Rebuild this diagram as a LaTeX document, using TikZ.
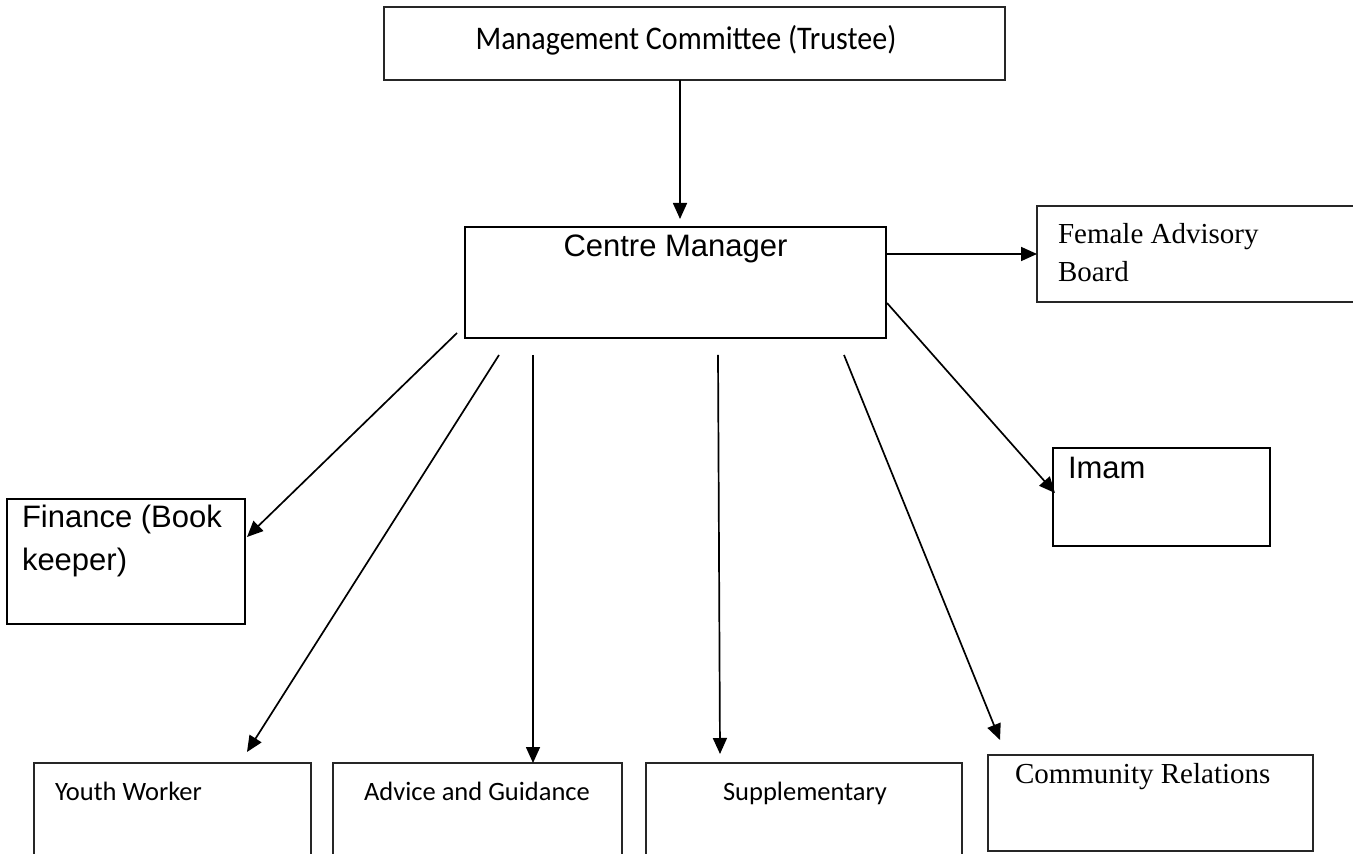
\documentclass[tikz,border=0pt]{standalone}
\usepackage{fontspec}
\usetikzlibrary{arrows.meta,calc}
\newfontfamily\arialf{Liberation Sans}
\newfontfamily\timesf{Liberation Serif}
\newfontfamily\calf{Carlito}
\newfontfamily\calmc[FakeStretch=0.91]{Carlito}
\begin{document}
\begin{tikzpicture}[x=0.5pt,y=-0.5pt,
  thickbox/.style={draw=black,line width=1.4pt,inner sep=0pt,outer sep=0pt,anchor=north west},
  thinbox/.style={draw=black!85,line width=0.9pt,inner sep=0pt,outer sep=0pt,anchor=north west},
  arr/.style={draw=black,line width=0.85pt,-{Triangle[length=8pt,width=7pt]}},
  lbl/.style={inner sep=0pt,outer sep=0pt},
  arialtxt/.style={lbl,font=\arialf\fontsize{15.5}{18}\selectfont},
  timestxt/.style={lbl,font=\timesf\fontsize{14.5}{18}\selectfont},
  caltxt/.style={lbl,font=\calf\fontsize{13.25}{16}\selectfont},
]
\useasboundingbox (0,0) rectangle (1353,854);
\fill[white] (0,0) rectangle (1353,854);
\clip (0,0) rectangle (1353,854);

% boxes
\node[thinbox,minimum width=310.5pt,minimum height=36.5pt] (mc) at (384,7) {};
\node[thickbox,minimum width=210.5pt,minimum height=55.5pt] (cm) at (465,227) {};
\node[thinbox,minimum width=164pt,minimum height=48pt] (fab) at (1037,206) {};
\node[thickbox,minimum width=108.5pt,minimum height=49pt] (imam) at (1053,448) {};
\node[thickbox,minimum width=119pt,minimum height=62.5pt] (fin) at (7,499) {};
\node[thinbox,minimum width=138.5pt,minimum height=58.5pt] (yw) at (34,763) {};
\node[thinbox,minimum width=144.5pt,minimum height=58.5pt] (adv) at (333,763) {};
\node[thinbox,minimum width=158pt,minimum height=58.5pt] (supp) at (646,763) {};
\node[thinbox,minimum width=162.5pt,minimum height=48pt] (cr) at (988,755) {};

% texts
\node[lbl,font=\calmc\fontsize{16.5}{20}\selectfont,anchor=base] (tmc) at (686,50) {Management Committee (Trustee)};
\node[arialtxt,anchor=base] (tcm) at (675.5,257) {Centre Manager};
\node[timestxt,anchor=base west] (tfab1) at (1058,244) {Female Advisory};
\node[timestxt,anchor=base west] (tfab2) at (1058,282) {Board};
\node[arialtxt,anchor=base west] (timam) at (1068,479) {Imam};
\node[arialtxt,anchor=base west] (tfin1) at (22,528) {Finance (Book};
\node[arialtxt,anchor=base west] (tfin2) at (22,571) {keeper)};
\node[caltxt,anchor=base west] (tyw) at (55,800) {Youth Worker};
\node[caltxt,anchor=base] (tadv) at (477,800) {Advice and Guidance};
\node[caltxt,anchor=base] (tsupp) at (805,800) {Supplementary};
\node[timestxt,anchor=base west] (tcr) at (1015,783) {Community Relations};

% connectors
\draw[arr] ($(mc.south west)+(296,0)$) -- ($(cm.north west)+(215,-8)$);
\draw[arr] (fab.west -| cm.east) -- (fab.west);
\draw[arr] ($(cm.south east)+(1,-35)$) -- ($(imam.north west)+(2,45)$);
\draw[arr] ($(cm.south west)+(-8,-5)$) -- ($(fin.north east)+(2,38)$);
\draw[arr] ($(cm.south west)+(34,17)$) -- ($(yw.north west)+(213,-11)$);
\draw[arr] ($(cm.south west)+(68,17)$) -- ($(adv.north west)+(200,0)$);
\draw[arr] ($(cm.south west)+(253,17)$) -- ($(supp.north west)+(74,-9)$);
\draw[arr] ($(cm.south west)+(379,17)$) -- ($(cr.north west)+(12,-15)$);
\end{tikzpicture}
\end{document}
